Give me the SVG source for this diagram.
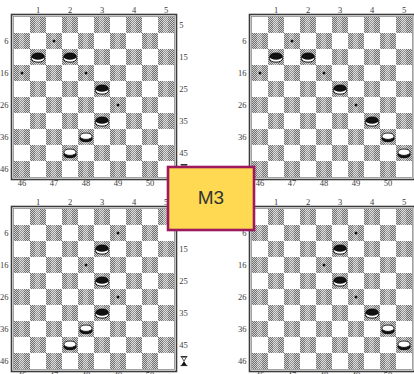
<svg xmlns="http://www.w3.org/2000/svg" xmlns:xlink="http://www.w3.org/1999/xlink" width="414" height="374" viewBox="0 0 414 374">
<style>
.lbl{font-family:"Liberation Serif","Times New Roman",serif;font-size:8.5px;fill:#3a3a3a}
.end{text-anchor:end}
.mid{text-anchor:middle}
.fin{fill:none;stroke:#8a8a8a;stroke-width:0.8}
.fout{fill:none;stroke:#3c3c3c;stroke-width:1.6}
.dot{fill:#111}
</style>
<defs>
<pattern id="dith" patternUnits="userSpaceOnUse" width="2" height="2">
<rect width="2" height="2" fill="#d2d2d2"/>
<rect width="1" height="1" fill="#6e6e6e"/>
<rect x="1" y="1" width="1" height="1" fill="#6e6e6e"/>
</pattern>
<pattern id="chk" patternUnits="userSpaceOnUse" width="32" height="32">
<rect width="32" height="32" fill="#ffffff"/>
<rect x="16" y="0" width="16" height="16" fill="url(#dith)"/>
<rect x="0" y="16" width="16" height="16" fill="url(#dith)"/>
<rect x="21" y="0" width="5" height="16" fill="#ffffff" opacity="0.25"/>
<rect x="5" y="16" width="5" height="16" fill="#ffffff" opacity="0.25"/>
</pattern>
<g id="bp">
<ellipse cx="0" cy="1.6" rx="6.6" ry="3.6" fill="#ffffff" stroke="#111" stroke-width="1"/>
<ellipse cx="0" cy="-0.8" rx="6.6" ry="3.6" fill="#111"/>
</g>
<g id="wp">
<ellipse cx="0" cy="1.6" rx="6.6" ry="3.6" fill="#111"/>
<ellipse cx="0" cy="-0.8" rx="6.1" ry="3.2" fill="#ffffff" stroke="#111" stroke-width="0.9"/>
</g>
<g id="board">
<rect x="0" y="0" width="160" height="160" fill="url(#chk)"/>
<rect x="-0.5" y="-0.5" width="161" height="161" class="fin"/>
<rect x="-2.5" y="-2.5" width="165" height="165" class="fout"/>
<text class="lbl mid" x="24" y="-4.5">1</text>
<text class="lbl mid" x="56" y="-4.5">2</text>
<text class="lbl mid" x="88" y="-4.5">3</text>
<text class="lbl mid" x="120" y="-4.5">4</text>
<text class="lbl mid" x="152" y="-4.5">5</text>
<text class="lbl end" x="-5.5" y="27">6</text>
<text class="lbl end" x="-5.5" y="59">16</text>
<text class="lbl end" x="-5.5" y="91">26</text>
<text class="lbl end" x="-5.5" y="123">36</text>
<text class="lbl end" x="-5.5" y="155">46</text>
<text class="lbl" x="165.3" y="11">5</text>
<text class="lbl" x="165.3" y="43">15</text>
<text class="lbl" x="165.3" y="75">25</text>
<text class="lbl" x="165.3" y="107">35</text>
<text class="lbl" x="165.3" y="139">45</text>
<text class="lbl mid" x="8" y="169">46</text>
<text class="lbl mid" x="40" y="169">47</text>
<text class="lbl mid" x="72" y="169">48</text>
<text class="lbl mid" x="104" y="169">49</text>
<text class="lbl mid" x="136" y="169">50</text>
<path d="M166.6,147.6h6.8M166.6,156.6h6.8" stroke="#222" stroke-width="1"/>
<path d="M167.6,148.2L172.4,148.2L170,152Z" fill="#fff" stroke="#222" stroke-width="0.8"/>
<path d="M170,152L172.6,156.2L167.4,156.2Z" fill="#111"/>
</g>
</defs>

<g id="board-top-left" transform="translate(14,17)">
<use href="#board"/>
<circle class="dot" cx="40" cy="24" r="1.5"/>
<circle class="dot" cx="8" cy="56" r="1.5"/>
<circle class="dot" cx="72" cy="56" r="1.5"/>
<circle class="dot" cx="104" cy="88" r="1.5"/>
<use href="#bp" x="24" y="40"/>
<use href="#bp" x="56" y="40"/>
<use href="#bp" x="88" y="72"/>
<use href="#bp" x="88" y="104"/>
<use href="#wp" x="72" y="120"/>
<use href="#wp" x="56" y="136"/>
</g>

<g id="board-top-right" transform="translate(252,17)">
<use href="#board"/>
<circle class="dot" cx="40" cy="24" r="1.5"/>
<circle class="dot" cx="8" cy="56" r="1.5"/>
<circle class="dot" cx="72" cy="56" r="1.5"/>
<circle class="dot" cx="104" cy="88" r="1.5"/>
<use href="#bp" x="24" y="40"/>
<use href="#bp" x="56" y="40"/>
<use href="#bp" x="88" y="72"/>
<use href="#bp" x="120" y="104"/>
<use href="#wp" x="136" y="120"/>
<use href="#wp" x="152" y="136"/>
</g>

<g id="board-bottom-left" transform="translate(14,209)">
<use href="#board"/>
<circle class="dot" cx="104" cy="24" r="1.5"/>
<circle class="dot" cx="72" cy="56" r="1.5"/>
<circle class="dot" cx="104" cy="88" r="1.5"/>
<use href="#bp" x="88" y="40"/>
<use href="#bp" x="88" y="72"/>
<use href="#bp" x="88" y="104"/>
<use href="#wp" x="72" y="120"/>
<use href="#wp" x="56" y="136"/>
</g>

<g id="board-bottom-right" transform="translate(252,209)">
<use href="#board"/>
<circle class="dot" cx="104" cy="24" r="1.5"/>
<circle class="dot" cx="72" cy="56" r="1.5"/>
<circle class="dot" cx="104" cy="88" r="1.5"/>
<use href="#bp" x="88" y="40"/>
<use href="#bp" x="88" y="72"/>
<use href="#bp" x="120" y="104"/>
<use href="#wp" x="136" y="120"/>
<use href="#wp" x="152" y="136"/>
</g>

<g id="connectors"></g>

<g id="node-m3">
<rect x="168" y="167" width="86" height="63" fill="#ffd952" stroke="#9e1a5e" stroke-width="2.6"/>
<text x="211" y="204" text-anchor="middle" font-family="Liberation Sans, Arial, sans-serif" font-size="19" fill="#333">M3</text>
</g>
</svg>
